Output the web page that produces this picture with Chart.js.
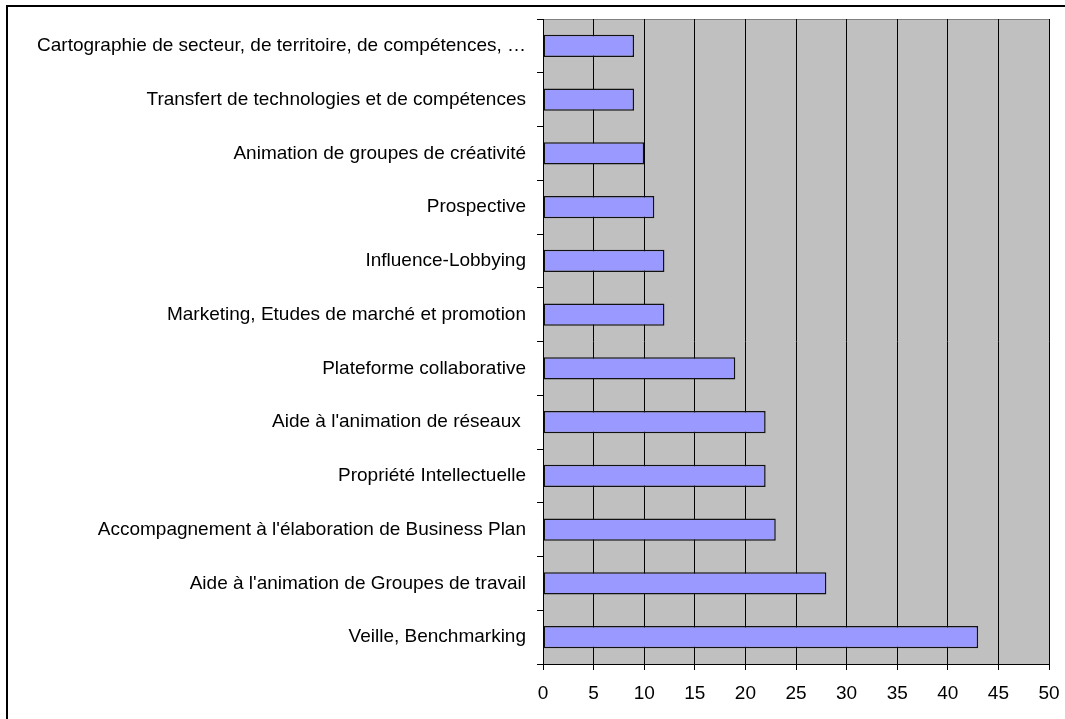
<!DOCTYPE html>
<html>
<head>
<meta charset="utf-8">
<script src="https://cdn.jsdelivr.net/npm/chart.js@4/dist/chart.umd.min.js"></script>
<style>
  html, body { margin: 0; padding: 0; background: #fff; }
  #wrap { width: 1065px; height: 719px; position: relative; }
</style>
</head>
<body>
<div id="wrap"><canvas id="servicesChart"></canvas></div>
<script>
// categories, top to bottom
const categories = [
    "Cartographie de secteur, de territoire, de compétences, \u2026",
    "Transfert de technologies et de compétences",
    "Animation de groupes de créativité",
    "Prospective",
    "Influence-Lobbying",
    "Marketing, Etudes de marché et promotion",
    "Plateforme collaborative",
    "Aide à l'animation de réseaux ",
    "Propriété Intellectuelle",
    "Accompagnement à l'élaboration de Business Plan",
    "Aide à l'animation de Groupes de travail",
    "Veille, Benchmarking"
];
const counts = [9, 9, 10, 11, 12, 12, 19, 22, 22, 23, 28, 43];
const xTicks = [0, 5, 10, 15, 20, 25, 30, 35, 40, 45, 50];

// grey plot area + the frame lines on left/top
const frame = {
    id: "frame",
    beforeDraw(chart) {
        const { ctx, chartArea: a } = chart;
        ctx.save();
        ctx.fillStyle = "#C0C0C0";
        ctx.fillRect(a.left, a.top, a.right - a.left, a.bottom - a.top);
        ctx.strokeStyle = "#808080";
        ctx.lineWidth = 1;
        ctx.beginPath();
        ctx.moveTo(a.left, a.top + 0.5);
        ctx.lineTo(a.right + 0.5, a.top + 0.5);
        ctx.lineTo(a.right + 0.5, a.bottom);
        ctx.stroke();
        ctx.strokeStyle = "#000";
        ctx.lineWidth = 2;
        ctx.beginPath();
        ctx.moveTo(7, chart.height);
        ctx.lineTo(7, 6);
        ctx.lineTo(chart.width, 6);
        ctx.stroke();
        ctx.restore();
    }
};

const font = { family: "Liberation Sans, Arial, sans-serif", size: 19 };

const ctx = document.getElementById("servicesChart");

new Chart(ctx, {
    type: "bar",
    data: {
        labels: categories,
        datasets: [{
            data: counts,
            backgroundColor: "#9999FF",
            borderColor: "#111",
            borderWidth: 1.5,
            borderSkipped: false,
            barPercentage: 0.82,
            categoryPercentage: 0.5
        }]
    },
    options: {
        indexAxis: "y",
        responsive: true,
        maintainAspectRatio: false,
        animation: false,
        layout: {
            autoPadding: false,
            padding: { top: 19, right: 16, left: 0, bottom: 0 }
        },
        plugins: {
            legend: { display: false },
            tooltip: { enabled: false }
        },
        scales: {
            x: {
                min: 0,
                max: 50,
                afterBuildTicks(scale) {
                    scale.ticks = xTicks.map(v => ({ value: v }));
                },
                afterFit(scale) {
                    scale.height = 55;
                    scale.paddingLeft = 0;
                    scale.paddingRight = 0;
                },
                grid: {
                    color: "#000",
                    lineWidth: 1,
                    tickLength: 6,
                    drawTicks: true
                },
                border: { color: "#000", width: 1 },
                ticks: {
                    color: "#000",
                    font: font,
                    padding: 12,
                    maxRotation: 0
                }
            },
            y: {
                afterFit(scale) {
                    scale.width = 543;
                    scale.paddingTop = 0;
                    scale.paddingBottom = 0;
                },
                grid: {
                    drawOnChartArea: false,
                    color: "#000",
                    tickLength: 6,
                    offset: true
                },
                border: { color: "#000", width: 1 },
                ticks: {
                    color: "#000",
                    font: font,
                    padding: 11,
                    autoSkip: false
                }
            }
        }
    },
    plugins: [frame]
});
</script>
</body>
</html>
